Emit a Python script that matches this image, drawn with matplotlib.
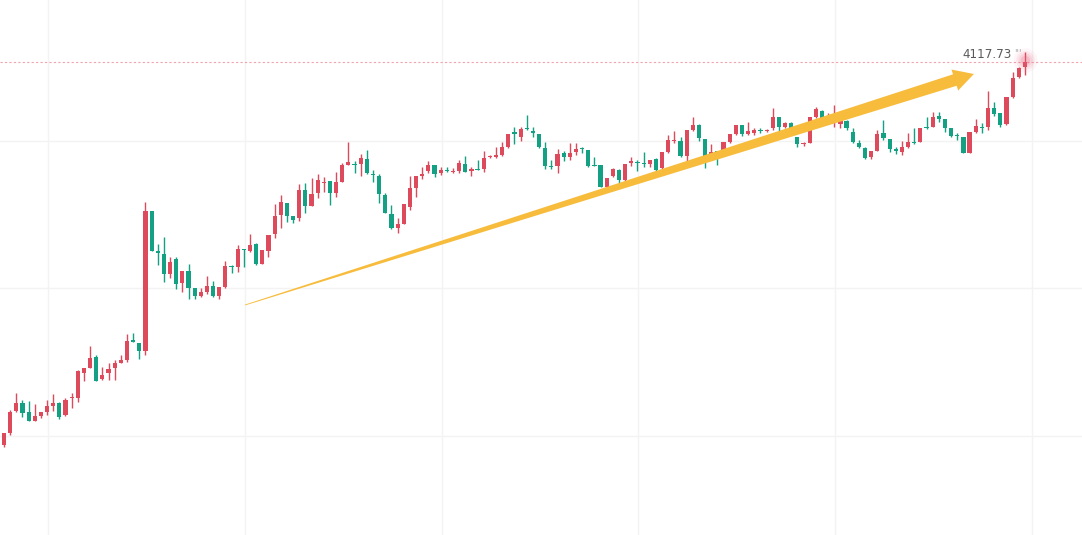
import numpy as np
import matplotlib
matplotlib.use("Agg")
import matplotlib.pyplot as plt
from matplotlib.patches import Polygon

# daily OHLC values, oldest first
opens = [3738, 3735, 3747, 3769, 3777, 3768, 3759, 3764, 3768, 3774,
         3777, 3765, 3782, 3782, 3807, 3812, 3823, 3801, 3807, 3812,
         3817, 3820, 3840, 3837, 3829, 3969, 3929, 3926, 3906, 3921,
         3897, 3909, 3892, 3884, 3888, 3894, 3884, 3893, 3914, 3913,
         3931, 3929, 3936, 3916, 3929, 3946, 3965, 3977, 3964, 3962,
         3990, 3974, 3987, 3997, 3999, 3987, 3998, 4015, 4016, 4016,
         4021, 4006, 4004, 3985, 3966, 3952, 3956, 3973, 3992, 4004,
         4009, 4015, 4007, 4010, 4008, 4009, 4016, 4009, 4011, 4011,
         4023, 4023, 4025, 4033, 4048, 4043, 4052, 4049, 4046, 4032,
         4014, 4014, 4027, 4023, 4028, 4032, 4030, 4015, 4015, 3993,
         4004, 4010, 4000, 4017, 4018, 4017, 4016, 4021, 4012, 4028,
         4039, 4039, 4024, 4050, 4055, 4041, 4026, 4029, 4029, 4038,
         4046, 4055, 4046, 4047, 4050, 4049, 4052, 4063, 4053, 4057,
         4043, 4036, 4037, 4063, 4069, 4061, 4059, 4056, 4059, 4048,
         4037, 4032, 4023, 4029, 4047, 4041, 4031, 4028, 4033, 4038,
         4038, 4053, 4053, 4064, 4061, 4052, 4045, 4043, 4027, 4048,
         4053, 4053, 4072, 4067, 4056, 4083, 4103, 4113]
highs = [3739, 3747, 3770, 3787, 3780, 3779, 3776, 3768, 3780, 3786,
         3778, 3782, 3787, 3810, 3812, 3834, 3825, 3813, 3817, 3820,
         3825, 3846, 3847, 3837, 3978, 3969, 3936, 3943, 3923, 3923,
         3909, 3916, 3892, 3892, 3904, 3899, 3893, 3919, 3915, 3935,
         3931, 3946, 3937, 3930, 3945, 3976, 3985, 3977, 3964, 3996,
         3997, 4002, 4006, 4003, 3999, 4008, 4017, 4038, 4019, 4026,
         4030, 4010, 4006, 3987, 3975, 3962, 3976, 4004, 4004, 4013,
         4019, 4015, 4013, 4013, 4012, 4020, 4024, 4013, 4020, 4029,
         4025, 4033, 4038, 4046, 4053, 4053, 4065, 4053, 4046, 4038,
         4020, 4031, 4029, 4037, 4037, 4033, 4030, 4023, 4015, 4002,
         4012, 4011, 4016, 4023, 4020, 4028, 4020, 4022, 4028, 4045,
         4049, 4043, 4050, 4063, 4056, 4041, 4036, 4029, 4038, 4046,
         4055, 4055, 4058, 4052, 4052, 4051, 4072, 4063, 4058, 4058,
         4043, 4038, 4063, 4073, 4070, 4067, 4075, 4061, 4060, 4052,
         4040, 4033, 4029, 4050, 4060, 4041, 4033, 4039, 4047, 4052,
         4052, 4063, 4068, 4068, 4061, 4052, 4047, 4043, 4048, 4061,
         4057, 4089, 4078, 4067, 4083, 4108, 4113, 4128]
lows = [3736, 3733, 3745, 3768, 3763, 3759, 3759, 3762, 3765, 3769,
        3761, 3764, 3772, 3778, 3799, 3812, 3799, 3800, 3800, 3800,
        3817, 3818, 3838, 3821, 3825, 3929, 3915, 3898, 3902, 3891,
        3888, 3881, 3881, 3883, 3886, 3883, 3881, 3892, 3907, 3908,
        3913, 3928, 3915, 3916, 3923, 3942, 3952, 3958, 3957, 3959,
        3967, 3974, 3982, 3988, 3975, 3983, 3998, 4015, 4007, 4004,
        4006, 3998, 3977, 3967, 3951, 3947, 3956, 3970, 3983, 4001,
        4007, 4003, 4005, 4008, 4007, 4007, 4008, 4004, 4010, 4008,
        4022, 4022, 4024, 4032, 4036, 4039, 4050, 4043, 4032, 4011,
        4011, 4007, 4019, 4020, 4025, 4027, 4013, 4014, 3993, 3993,
        4003, 3997, 3998, 4014, 4009, 4013, 4013, 4007, 4011, 4027,
        4037, 4023, 4019, 4049, 4039, 4012, 4022, 4015, 4028, 4037,
        4045, 4044, 4045, 4045, 4047, 4048, 4050, 4048, 4052, 4050,
        4033, 4034, 4037, 4062, 4061, 4059, 4053, 4052, 4050, 4037,
        4032, 4021, 4021, 4029, 4040, 4028, 4026, 4025, 4032, 4036,
        4038, 4051, 4053, 4058, 4048, 4043, 4040, 4027, 4027, 4047,
        4047, 4050, 4064, 4053, 4055, 4082, 4102, 4105]
closes = [3737, 3747, 3768, 3777, 3767, 3759, 3764, 3768, 3774, 3777,
          3763, 3780, 3783, 3809, 3812, 3822, 3799, 3805, 3811, 3817,
          3820, 3839, 3838, 3829, 3969, 3929, 3927, 3906, 3918, 3896,
          3909, 3892, 3884, 3888, 3894, 3884, 3893, 3914, 3913, 3931,
          3930, 3935, 3916, 3930, 3945, 3964, 3978, 3964, 3960, 3990,
          3974, 3986, 4000, 3998, 3987, 3998, 4015, 4018, 4015, 4022,
          4007, 4005, 3986, 3967, 3952, 3956, 3976, 3992, 4004, 4006,
          4015, 4006, 4010, 4009, 4009, 4017, 4008, 4011, 4010, 4022,
          4024, 4025, 4033, 4046, 4046, 4051, 4051, 4047, 4033, 4014,
          4013, 4026, 4023, 4027, 4031, 4031, 4014, 4014, 3993, 4002,
          4011, 4000, 4016, 4019, 4017, 4016, 4020, 4010, 4028, 4040,
          4040, 4024, 4050, 4055, 4042, 4023, 4028, 4028, 4038, 4046,
          4055, 4046, 4049, 4050, 4049, 4050, 4063, 4053, 4057, 4052,
          4036, 4037, 4063, 4071, 4062, 4064, 4062, 4059, 4052, 4038,
          4033, 4022, 4029, 4046, 4042, 4031, 4029, 4033, 4038, 4037,
          4052, 4052, 4063, 4061, 4052, 4044, 4044, 4027, 4048, 4054,
          4052, 4072, 4066, 4055, 4083, 4102, 4112, 4117.73]

last_label = "4117.73"
grid_prices = [4039, 3892, 3744]
grid_days = [8.15, 40.15, 72.15, 104.15, 136.15, 168.15]

up_color = "#dc4a5c"
down_color = "#14a083"

o = np.array(opens, dtype=float)
h = np.array(highs, dtype=float)
l = np.array(lows, dtype=float)
c = np.array(closes, dtype=float)
x = np.arange(len(o))
colors = np.where(c >= o, up_color, down_color)

fig = plt.figure(figsize=(10.82, 5.35), dpi=100)
ax = fig.add_axes([0, 0, 1, 1])
ax.set_xlim(0.35, 176.28)
ax.set_ylim(3645, 4180)
ax.axis("off")

# faint grid
for gp in grid_prices:
    ax.axhline(gp, color="#f3f3f3", lw=1, zorder=0)
for gd in grid_days:
    ax.axvline(gd, color="#f3f3f3", lw=1, zorder=0)

# candles
ax.vlines(x, l, h, colors=colors, lw=1.0, zorder=2)
body_bottom = np.minimum(o, c)
body_height = np.maximum(np.abs(c - o), 1.3)
ax.bar(x, body_height, bottom=body_bottom, width=0.68, color=colors,
       linewidth=0, zorder=3)

# last price line and label
ax.axhline(c[-1], color="#f0a3ad", lw=0.8, ls=(0, (2, 2)), zorder=1)
ax.text(164.9, c[-1] + 8, last_label, ha="right", va="center",
        fontsize=8.6, color="#5a5a5a")
ax.text(165.2, c[-1] + 9.5, "'''", ha="left", va="center",
        fontsize=7, color="#a8a8a8")

# glow on last candle
for s, a in [(300, 0.06), (180, 0.09), (100, 0.13), (45, 0.2)]:
    ax.scatter([x[-1]], [c[-1] + 2], s=s, color="#e8607a", alpha=a,
               linewidths=0, zorder=4)

# hand-drawn style trend arrow (tapered shaft)
fig.canvas.draw()
tail = ax.transData.transform((40.19, 3875))
tip = ax.transData.transform((158.7, 4106))
u = (tip - tail) / np.linalg.norm(tip - tail)
n = np.array([-u[1], u[0]])
head_len, head_w = 20, 11
w0, w1 = 0.4, 6.0
base = tip - u * head_len
pts = np.array([tail + n * w0, base + n * w1, base + n * head_w, tip,
                base - n * head_w, base - n * w1, tail - n * w0])
pts = ax.transData.inverted().transform(pts)
ax.add_patch(Polygon(pts, closed=True, color="#f7bc3c", lw=0, zorder=5))

fig.savefig("out.png", dpi=100)
